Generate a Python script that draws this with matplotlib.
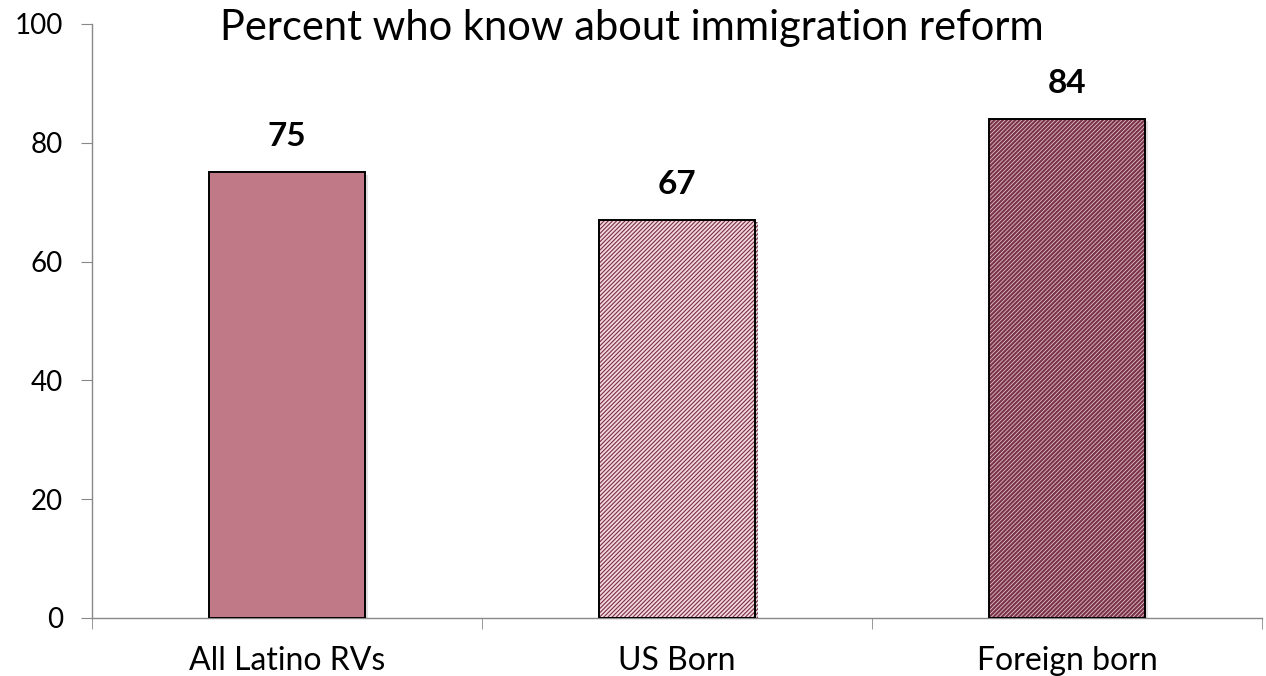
import matplotlib
matplotlib.use("Agg")
import matplotlib.pyplot as plt
import matplotlib.patheffects as pe
import numpy as np

categories = ["All Latino RVs", "US Born", "Foreign born"]
values = [75, 67, 84]
yticks = [0, 20, 40, 60, 80, 100]
title = "Percent who know about immigration reform"

face_colors = ["#C07A87", "#F3D8DD", "#7A3449"]
hatch_colors = ["#C07A87", "#7A2E46", "#F3D8DD"]
hatches = [None, "////////", "////////"]
hatch_widths = [0.8, 0.8, 0.5]

plt.rcParams['font.family'] = ['Lato', 'DejaVu Sans']

fig = plt.figure(figsize=(12.66, 6.76), dpi=100)
ax = fig.add_axes([92/1266, 58/676, 1170/1266, 594/676])

x = np.arange(len(categories))
for i in range(len(categories)):
    with plt.rc_context({'hatch.linewidth': hatch_widths[i]}):
        body = ax.bar(x[i], values[i], width=0.4, color=face_colors[i],
                      edgecolor=hatch_colors[i], linewidth=0, hatch=hatches[i], zorder=3)
    for p in body:
        if hasattr(p, "set_hatch_linewidth"):
            p.set_hatch_linewidth(hatch_widths[i])
        p.set_path_effects([pe.SimplePatchShadow(offset=(2.5, -1.5), alpha=0.18,
                                                 shadow_rgbFace="#555555"), pe.Normal()])
    # black outline
    ax.bar(x[i], values[i], width=0.4, fill=False,
           edgecolor="black", linewidth=1.4, zorder=4)
    ax.text(x[i], values[i] + 3.6, str(values[i]), ha="center", va="bottom",
            fontsize=24, fontweight="bold")

ax.set_xlim(-0.5, len(categories) - 0.5)
ax.set_ylim(0, 100)
ax.set_yticks(yticks)
ax.set_xticks(x)
ax.set_xticklabels(categories, fontsize=23)
ax.set_xticks(np.arange(-0.5, len(categories)), minor=True)
ax.tick_params(axis="x", which="major", length=0, pad=20)
ax.tick_params(axis="x", which="minor", length=8, direction="out", color="#888888")
ax.tick_params(axis="y", length=8, direction="out", color="#888888", labelsize=20, pad=13)
for s in ["top", "right"]:
    ax.spines[s].set_visible(False)
for s in ["left", "bottom"]:
    ax.spines[s].set_color("#888888")
    ax.spines[s].set_linewidth(1)

fig.text(632/1266, 1 - 28/676, title, ha="center", va="center", fontsize=30)

fig.savefig("out.png", dpi=100)
